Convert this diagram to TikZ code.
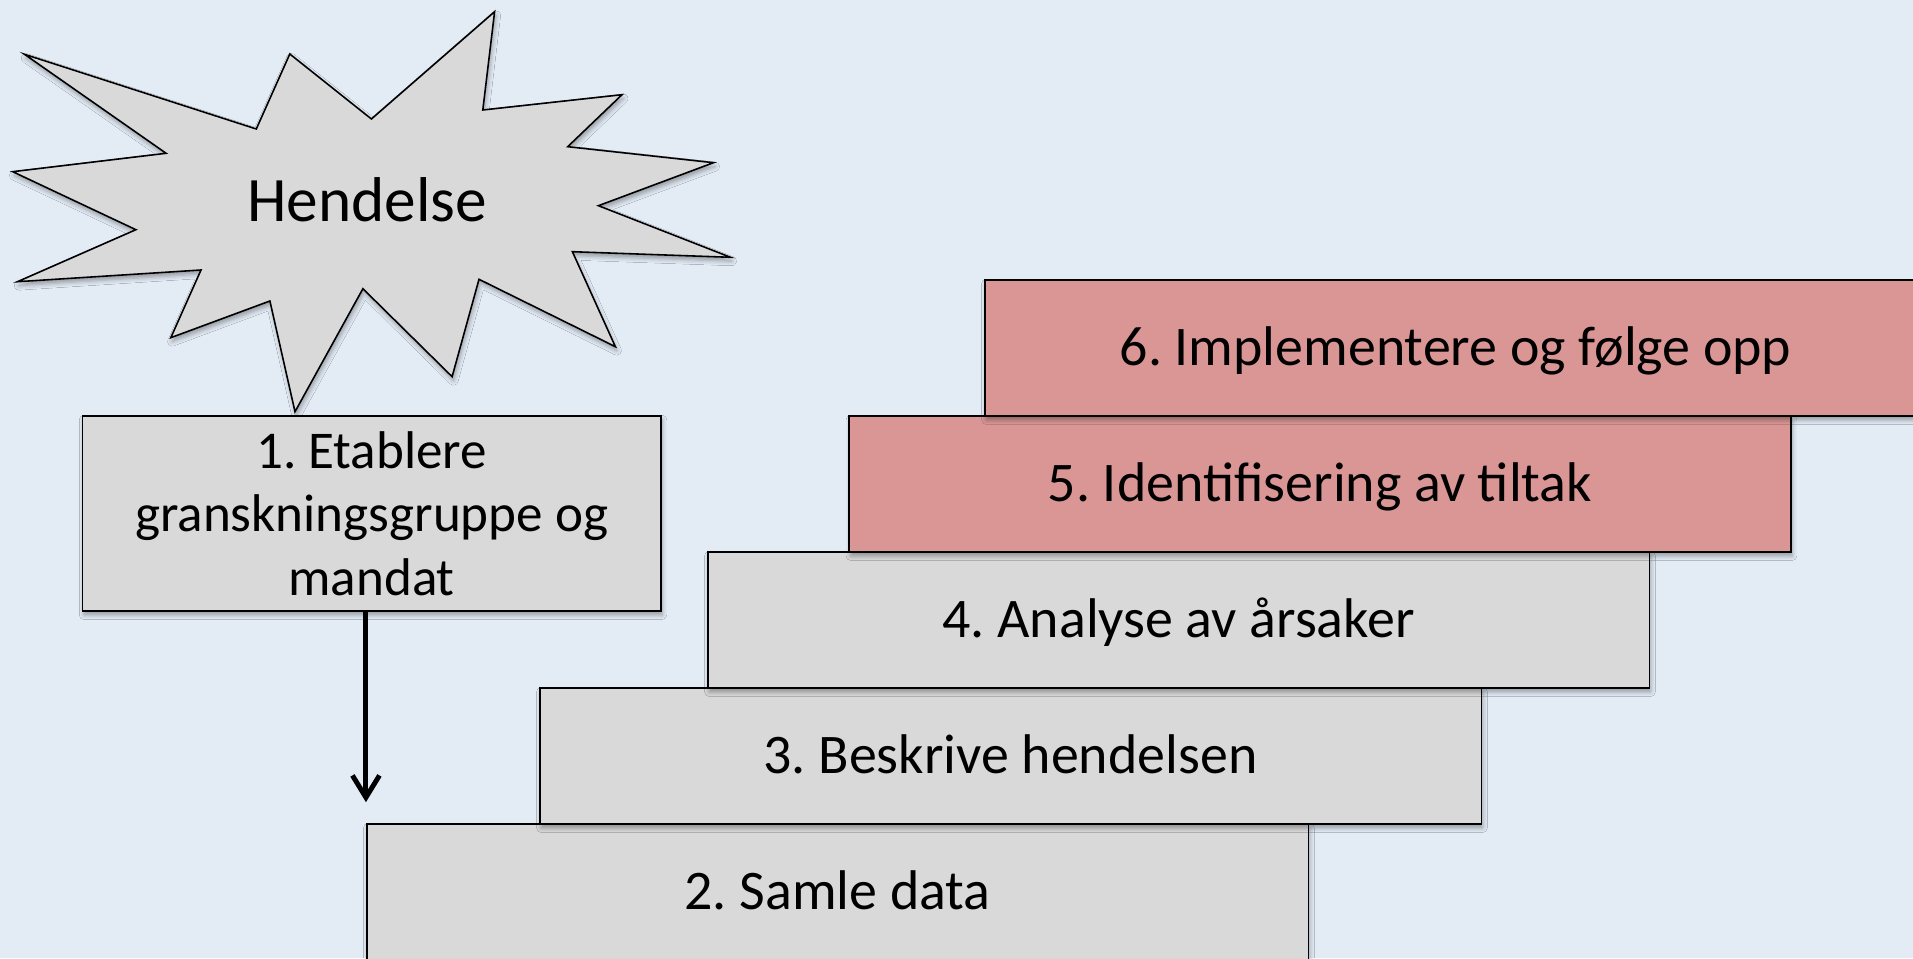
\documentclass[tikz,border=0pt]{standalone}
\usepackage{fontspec}
\setmainfont{Carlito}
\frenchspacing
\usetikzlibrary{arrows.meta,shadows.blur}
\definecolor{bgblue}{HTML}{E3EBF5}
\definecolor{stepgrey}{HTML}{D9D9D9}
\definecolor{stepred}{HTML}{D99694}
\begin{document}
\begin{tikzpicture}[
            x=0.01cm, y=-0.01cm,
            softshadow/.style={blur shadow={shadow xshift=0.4pt, shadow yshift=-1.1pt, shadow blur radius=1.3pt, shadow opacity=35}},
            box/.style={rectangle, draw, line width=0.45pt, fill=stepgrey, inner sep=0pt, text centered, font=\fontsize{15.9}{17.9}\selectfont, softshadow},
            stepbox/.style={box, minimum width=9.41cm, minimum height=1.36cm, text height=10.2pt, text depth=0pt},
            redbox/.style={stepbox, fill=stepred},
            startbox/.style={box, minimum width=5.78cm, minimum height=1.95cm, align=center, text depth=0pt, font=\fontsize{15.1}{18}\selectfont},
            arr/.style={line width=1.4pt, -{Straight Barb[length=2.2mm, width=2.7mm]}}
        ]
        \fill[bgblue] (0,0) rectangle (1913,958);
        \useasboundingbox (0,0) rectangle (1913,958);
        \clip (0,0) rectangle (1913,958);
        \filldraw[fill=stepgrey, line width=0.45pt, line join=miter, softshadow]
            (24.5,54.3) -- (256.3,129.0) -- (289.8,54.0) -- (371.4,119.0) -- (494.6,11.7) -- (482.8,110.0)
            -- (622.0,94.7) -- (567.7,146.7) -- (713.5,162.7) -- (598.4,205.7) -- (730.5,257.3) -- (572.4,251.7)
            -- (615.4,346.7) -- (479.0,279.3) -- (452.1,376.7) -- (362.9,288.7) -- (295.0,411.7) -- (269.9,301.0)
            -- (170.8,337.7) -- (201.0,270.0) -- (17.5,281.7) -- (135.9,229.7) -- (12.7,171.7) -- (166.1,153.3) -- cycle;
        \node[font=\fontsize{18}{21}\selectfont, text height=11.6pt, text depth=0pt] (hendelse) at (367,201) {Hendelse};
        \node[startbox] (etablere) at (371.6,513.5) {1. Etablere\\granskningsgruppe og\\mandat};
        \node[stepbox] (samle) at (837.5,892) {2. Samle data};
        \node[stepbox] (beskrive) at (1010.5,756) {3. Beskrive hendelsen};
        \node[stepbox] (analyse) at (1178.5,620) {4. Analyse av årsaker};
        \node[redbox] (tiltak) at (1320,484) {5. Identifisering av tiltak};
        \node[redbox] (implementere) at (1455.5,348) {6. Implementere og følge opp};
        \draw[arr, shorten >=2.1mm] (etablere.south -| samle.west) -- (samle.north west);
        \end{tikzpicture}
\end{document}
